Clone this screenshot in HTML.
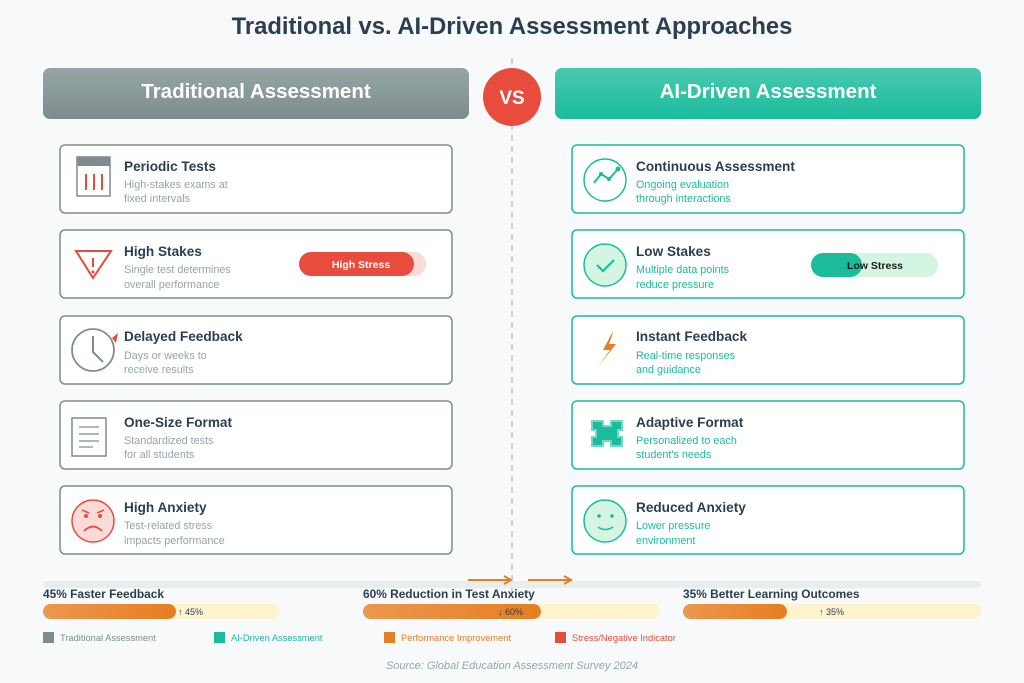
<!DOCTYPE html>
<html><head><meta charset="utf-8"><style>
html,body{margin:0;padding:0;background:#f7f9fa;}
svg{display:block;font-family:"Liberation Sans",Arial,sans-serif;}
.t{font-size:13.6px;font-weight:bold;fill:#2c3e50}
.dg{font-size:10.8px;fill:#95a5a6}
.dt{font-size:10.8px;fill:#1abc9c}
</style></head><body>
<svg width="1024" height="683" viewBox="0 0 1024 683" xmlns="http://www.w3.org/2000/svg">
<defs>
<linearGradient id="gg" x1="0" y1="0" x2="0" y2="1"><stop offset="0" stop-color="#95a5a6"/><stop offset="1" stop-color="#7f8c8d"/></linearGradient>
<linearGradient id="tg" x1="0" y1="0" x2="0" y2="1"><stop offset="0" stop-color="#48c9b0"/><stop offset="1" stop-color="#1abc9c"/></linearGradient>
<linearGradient id="og" x1="0" y1="0" x2="1" y2="0"><stop offset="0" stop-color="#eb984e"/><stop offset="1" stop-color="#e67e22"/></linearGradient>
</defs>
<rect width="1024" height="683" fill="#f7f9fa"/>
<text x="512" y="34" text-anchor="middle" font-size="23.8" font-weight="bold" fill="#2c3e50">Traditional vs. AI-Driven Assessment Approaches</text>
<line x1="512" y1="58" x2="512" y2="592" stroke="#b0b8bc" stroke-width="1.2" stroke-dasharray="6,5"/>
<rect x="43" y="68" width="426" height="51" rx="7" fill="url(#gg)"/>
<text x="256" y="98" text-anchor="middle" font-size="20.5" font-weight="bold" fill="#fff">Traditional Assessment</text>
<rect x="555" y="68" width="426" height="51" rx="7" fill="url(#tg)"/>
<text x="768" y="98" text-anchor="middle" font-size="20.5" font-weight="bold" fill="#fff">AI-Driven Assessment</text>
<circle cx="512" cy="97" r="29" fill="#e74c3c"/>
<text x="512" y="104" text-anchor="middle" font-size="19" font-weight="bold" fill="#fff">VS</text>

<g fill="#fff" stroke="#7f8c8d" stroke-width="1.5">
<rect x="60" y="145" width="392" height="68" rx="5"/>
<rect x="60" y="230" width="392" height="68" rx="5"/>
<rect x="60" y="316" width="392" height="68" rx="5"/>
<rect x="60" y="401" width="392" height="68" rx="5"/>
<rect x="60" y="486" width="392" height="68" rx="5"/>
</g>
<g fill="#fff" stroke="#1abc9c" stroke-width="1.5">
<rect x="572" y="145" width="392" height="68" rx="5"/>
<rect x="572" y="230" width="392" height="68" rx="5"/>
<rect x="572" y="316" width="392" height="68" rx="5"/>
<rect x="572" y="401" width="392" height="68" rx="5"/>
<rect x="572" y="486" width="392" height="68" rx="5"/>
</g>

<rect x="77" y="157" width="33" height="39" fill="#fff" stroke="#7f8c8d" stroke-width="1.5"/>
<rect x="77" y="157" width="33" height="9" fill="#7f8c8d"/>
<g stroke="#e74c3c" stroke-width="2"><line x1="86" y1="174" x2="86" y2="190"/><line x1="94" y1="174" x2="94" y2="190"/><line x1="102" y1="174" x2="102" y2="190"/></g>
<polygon points="76,251 111,251 93,278" fill="none" stroke="#e74c3c" stroke-width="2"/>
<line x1="93" y1="258" x2="93" y2="267" stroke="#e74c3c" stroke-width="2"/><circle cx="93" cy="272" r="1.5" fill="#e74c3c"/>
<circle cx="93" cy="350" r="21" fill="none" stroke="#7f8c8d" stroke-width="1.8"/>
<polyline points="93,336 93,352 103,362" fill="none" stroke="#7f8c8d" stroke-width="2"/>
<polygon points="112,338 118,333 116,343" fill="#e74c3c"/>
<rect x="72" y="418" width="34" height="38" fill="#fff" stroke="#7f8c8d" stroke-width="1.5"/>
<g stroke="#7f8c8d" stroke-width="1.2"><line x1="79" y1="427" x2="99" y2="427"/><line x1="79" y1="434" x2="99" y2="434"/><line x1="79" y1="441" x2="99" y2="441"/><line x1="79" y1="447" x2="93" y2="447"/></g>
<circle cx="93" cy="521" r="21" fill="#fadbd8" stroke="#e74c3c" stroke-width="1.5"/>
<circle cx="86" cy="516" r="2" fill="#e74c3c"/><circle cx="100" cy="516" r="2" fill="#e74c3c"/>
<line x1="82" y1="510" x2="89" y2="513" stroke="#e74c3c" stroke-width="1.5"/><line x1="104" y1="510" x2="97" y2="513" stroke="#e74c3c" stroke-width="1.5"/>
<path d="M84 531 Q93 522 102 531" fill="none" stroke="#e74c3c" stroke-width="1.8"/>

<circle cx="605" cy="180" r="21" fill="#fff" stroke="#1abc9c" stroke-width="1.5"/>
<polyline points="594,183 601,174 609,179 618,169" fill="none" stroke="#1abc9c" stroke-width="2"/>
<circle cx="601" cy="174" r="2" fill="#1abc9c"/><circle cx="609" cy="179" r="2" fill="#1abc9c"/><circle cx="618" cy="169" r="2.5" fill="#1abc9c"/>
<circle cx="605" cy="265" r="21" fill="#d5f5e3" stroke="#1abc9c" stroke-width="1.5"/>
<polyline points="597,265 603,271 614,260" fill="none" stroke="#1abc9c" stroke-width="2.2"/>
<polygon points="612,333 603,350 610,350 598,367 616,344 609,344 613,333" fill="#e67e22"/>
<path d="M592 421 h11 v5 h8 v-5 h11 v9 h-4 v7 h4 v9 h-11 v-5 h-8 v5 h-11 v-9 h4 v-7 h-4 z" fill="#1abc9c" stroke="#76d7c4" stroke-width="2"/>
<circle cx="605" cy="521" r="21" fill="#d5f5e3" stroke="#1abc9c" stroke-width="1.5"/>
<circle cx="599" cy="516" r="1.8" fill="#1abc9c"/><circle cx="612" cy="516" r="1.8" fill="#1abc9c"/>
<path d="M598 527 Q605 532 613 527" fill="none" stroke="#1abc9c" stroke-width="1.5"/>

<text class="t" x="124" y="171">Periodic Tests</text>
<text class="dg" x="124" y="188">High-stakes exams at</text><text class="dg" x="124" y="202">fixed intervals</text>
<text class="t" x="124" y="256">High Stakes</text>
<text class="dg" x="124" y="273">Single test determines</text><text class="dg" x="124" y="288">overall performance</text>
<text class="t" x="124" y="341">Delayed Feedback</text>
<text class="dg" x="124" y="359">Days or weeks to</text><text class="dg" x="124" y="373">receive results</text>
<text class="t" x="124" y="427">One-Size Format</text>
<text class="dg" x="124" y="444">Standardized tests</text><text class="dg" x="124" y="458">for all students</text>
<text class="t" x="124" y="512">High Anxiety</text>
<text class="dg" x="124" y="529">Test-related stress</text><text class="dg" x="124" y="544">impacts performance</text>

<text class="t" x="636" y="171">Continuous Assessment</text>
<text class="dt" x="636" y="188">Ongoing evaluation</text><text class="dt" x="636" y="202">through interactions</text>
<text class="t" x="636" y="256">Low Stakes</text>
<text class="dt" x="636" y="273">Multiple data points</text><text class="dt" x="636" y="288">reduce pressure</text>
<text class="t" x="636" y="341">Instant Feedback</text>
<text class="dt" x="636" y="359">Real-time responses</text><text class="dt" x="636" y="373">and guidance</text>
<text class="t" x="636" y="427">Adaptive Format</text>
<text class="dt" x="636" y="444">Personalized to each</text><text class="dt" x="636" y="458">student's needs</text>
<text class="t" x="636" y="512">Reduced Anxiety</text>
<text class="dt" x="636" y="529">Lower pressure</text><text class="dt" x="636" y="544">environment</text>

<rect x="299" y="252" width="127" height="24" rx="12" fill="#fadbd8"/>
<rect x="299" y="252" width="115" height="24" rx="12" fill="#e74c3c"/>
<text x="361" y="268" text-anchor="middle" font-size="10.5" font-weight="bold" fill="#fff">High Stress</text>
<rect x="811" y="253" width="127" height="24" rx="12" fill="#d5f5e3"/>
<rect x="811" y="253" width="51" height="24" rx="12" fill="#1abc9c"/>
<text x="875" y="269" text-anchor="middle" font-size="10.5" font-weight="bold" fill="#1a1a1a">Low Stress</text>

<rect x="43" y="581" width="938" height="7" rx="3.5" fill="#eaeded"/>
<g stroke="#e67e22" stroke-width="2" fill="none"><line x1="468" y1="580" x2="510" y2="580"/><polyline points="504,576 511,580 504,584"/><line x1="528" y1="580" x2="570" y2="580"/><polyline points="564,576 571,580 564,584"/></g>
<text x="43" y="598" font-size="11.9" font-weight="bold" fill="#2c3e50">45% Faster Feedback</text>
<text x="363" y="598" font-size="11.9" font-weight="bold" fill="#2c3e50">60% Reduction in Test Anxiety</text>
<text x="683" y="598" font-size="11.9" font-weight="bold" fill="#2c3e50">35% Better Learning Outcomes</text>
<rect x="43" y="604" width="237" height="15" rx="7.5" fill="#fcf3cf"/>
<rect x="43" y="604" width="133" height="15" rx="7.5" fill="url(#og)"/>
<text x="178" y="615" font-size="9" fill="#2c3e50">↑ 45%</text>
<rect x="363" y="604" width="297" height="15" rx="7.5" fill="#fcf3cf"/>
<rect x="363" y="604" width="178" height="15" rx="7.5" fill="url(#og)"/>
<text x="498" y="615" font-size="9" fill="#2c3e50">↓ 60%</text>
<rect x="683" y="604" width="298" height="15" rx="7.5" fill="#fcf3cf"/>
<rect x="683" y="604" width="104" height="15" rx="7.5" fill="url(#og)"/>
<text x="819" y="615" font-size="9" fill="#2c3e50">↑ 35%</text>

<rect x="43" y="632" width="11" height="11" fill="#7f8c8d"/><text x="60" y="641" font-size="9.3" fill="#7f8c8d">Traditional Assessment</text>
<rect x="214" y="632" width="11" height="11" fill="#1abc9c"/><text x="231" y="641" font-size="9.3" fill="#1abc9c">AI-Driven Assessment</text>
<rect x="384" y="632" width="11" height="11" fill="#e67e22"/><text x="401" y="641" font-size="9.3" fill="#e67e22">Performance Improvement</text>
<rect x="555" y="632" width="11" height="11" fill="#e74c3c"/><text x="572" y="641" font-size="9.3" fill="#e74c3c">Stress/Negative Indicator</text>
<text x="512" y="669" text-anchor="middle" font-size="11" font-style="italic" fill="#95a5a6">Source: Global Education Assessment Survey 2024</text>
</svg>
</body></html>
